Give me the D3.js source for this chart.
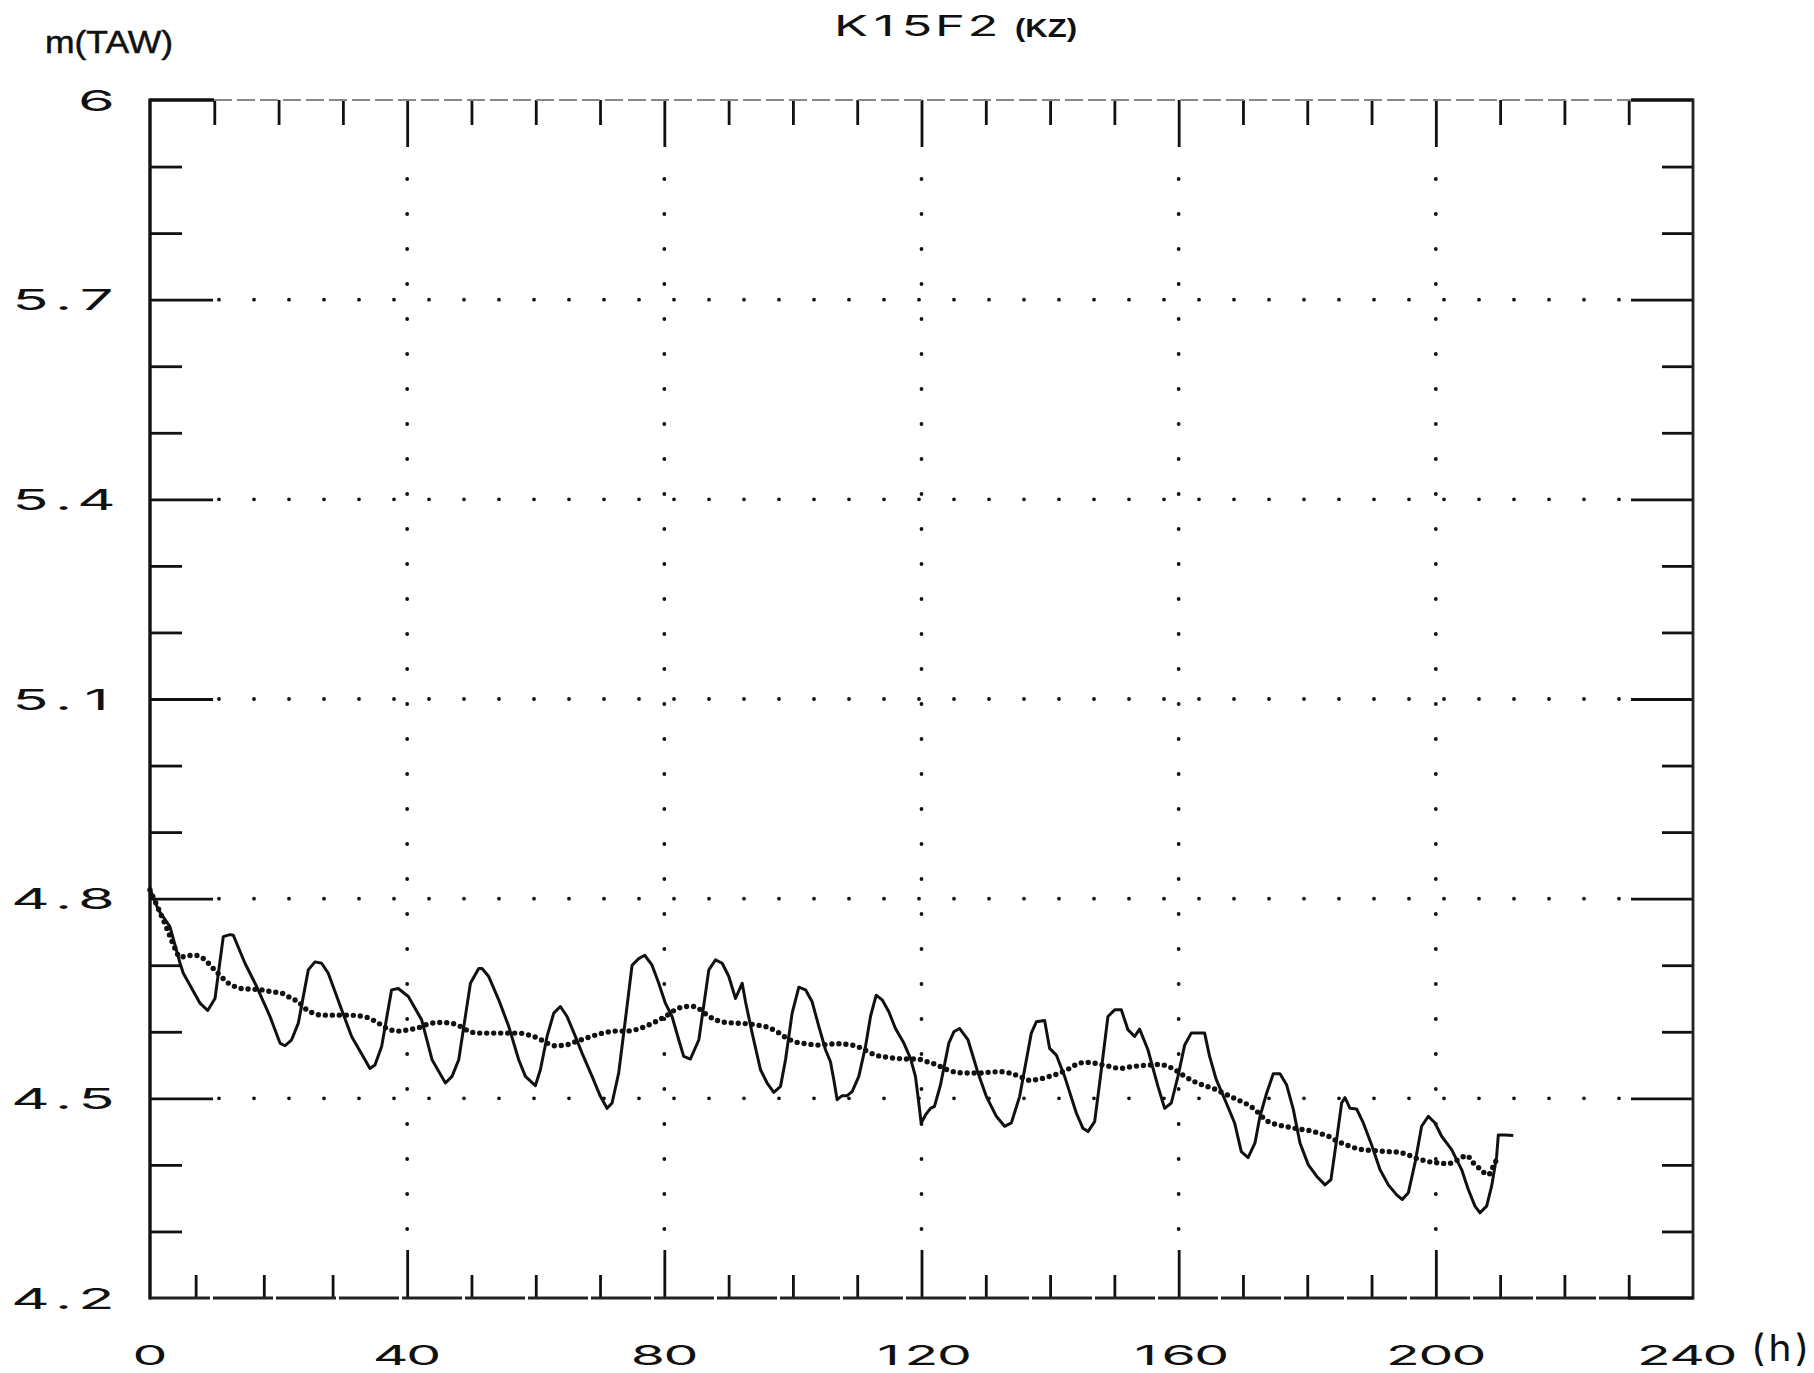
<!DOCTYPE html>
<html><head><meta charset="utf-8">
<script src="https://cdn.jsdelivr.net/npm/d3@7"></script>
<style>html,body{margin:0;padding:0;background:#fff}svg{display:block}</style>
</head><body>
<script>
// ---------------- DATA ----------------
const chartTitle = "K15F2";
const chartTitleNote = "(KZ)";
const yAxisTitle = "m(TAW)";
const xAxisUnit = "(h)";

// observed water level (solid line): hour, level m TAW
const solidHours = [0,1.3,3.1,4.67,5.18,7.78,8.97,10.11,11.4,12.44,12.96,14.77,16.59,18.66,20.22,21.0,22.03,23.07,24.62,25.66,26.7,27.73,29.81,31.36,33.44,34.21,34.99,36.03,37.58,38.62,40.18,42.25,
43.87,45.95,46.98,48.02,49.84,51.13,51.65,52.69,54.24,55.8,57.35,58.39,59.94,60.72,61.76,62.8,63.83,64.87,66.16,67.2,68.76,70.05,71.09,71.87,72.9,73.94,74.98,76.01,76.95,78.09,79.13,80.16,81.2,82.24,83.01,84.05,
85.37,86.92,87.96,89.0,90.03,91.07,92.11,92.63,93.66,94.96,95.99,97.03,98.07,98.85,99.88,100.92,101.96,102.99,104.03,105.07,105.84,106.36,106.88,107.66,108.43,109.21,110.25,111.29,112.07,112.95,113.88,114.92,115.95,117.25,118.29,119.06,119.58,119.95,120.62,121.4,122.02,122.95,124.25,125.03,125.91,126.84,
127.23,128.79,130.08,131.64,132.93,133.97,135.27,137.08,137.86,139.15,139.93,140.97,142.26,144.08,145.11,145.89,146.93,147.71,149.0,150.04,151.08,152.11,153.15,153.93,155.22,156.78,157.82,158.85,159.89,160.93,161.96,164.04,164.81,165.85,167.41,168.7,169.74,
170.8,171.87,172.65,173.69,174.72,175.76,176.8,177.84,178.87,180.17,181.46,182.76,183.69,184.57,185.35,185.87,186.65,187.68,188.72,190.02,191.31,192.61,193.91,194.79,195.72,196.76,197.79,198.83,199.87,200.9,202.46,204.01,205.05,206.09,206.87,207.9,208.68,209.46,209.72,210.75,212.05];
const solidLevels = [4.815,4.783,4.758,4.703,4.688,4.643,4.632,4.65,4.743,4.746,4.745,4.703,4.668,4.623,4.583,4.579,4.588,4.613,4.693,4.705,4.703,4.688,4.633,4.593,4.558,4.545,4.55,4.578,4.663,4.665,4.653,4.618,
4.558,4.523,4.533,4.558,4.673,4.695,4.695,4.683,4.648,4.608,4.558,4.533,4.519,4.543,4.593,4.628,4.638,4.623,4.593,4.568,4.533,4.503,4.485,4.493,4.538,4.618,4.7,4.71,4.715,4.7,4.673,4.643,4.623,4.588,4.563,4.559,
4.588,4.693,4.708,4.703,4.683,4.65,4.673,4.645,4.598,4.543,4.523,4.509,4.518,4.558,4.628,4.667,4.663,4.645,4.608,4.573,4.555,4.528,4.498,4.504,4.504,4.51,4.533,4.578,4.623,4.655,4.648,4.63,4.605,4.583,4.56,4.533,4.493,4.463,4.475,4.485,4.488,4.52,4.583,4.6,4.605,4.593,
4.588,4.538,4.503,4.473,4.458,4.463,4.503,4.598,4.615,4.617,4.575,4.565,4.533,4.478,4.455,4.45,4.465,4.523,4.623,4.633,4.633,4.603,4.593,4.604,4.573,4.518,4.485,4.493,4.533,4.58,4.598,4.598,4.563,4.528,4.493,4.463,4.42,
4.411,4.433,4.473,4.508,4.537,4.537,4.52,4.483,4.433,4.4,4.383,4.37,4.378,4.438,4.493,4.501,4.485,4.484,4.463,4.43,4.393,4.37,4.355,4.348,4.358,4.403,4.458,4.473,4.463,4.443,4.423,4.393,4.363,4.338,4.328,4.338,4.368,4.413,4.445,4.445,4.444];

// filtered mean level (dotted line): hour, level m TAW
const meanHours = [0,2.85,3.89,4.67,5.7,7.0,8.29,9.85,10.89,11.92,12.96,14.26,15.81,17.37,18.92,20.48,22.03,23.07,24.11,25.14,26.7,28.25,30.33,32.4,33.96,35.51,37.07,38.62,40.18,41.73,
43.36,44.91,46.72,48.28,49.58,51.13,53.2,55.28,57.35,58.91,60.46,61.76,63.05,64.61,66.16,67.72,69.28,70.83,72.39,73.94,75.5,77.05,78.61,80.16,81.72,83.27,84.6,
85.64,86.67,87.97,89.52,91.34,92.89,94.45,96.0,97.56,99.12,100.67,102.23,103.78,105.34,106.89,108.45,110.0,111.3,112.85,114.41,116.22,117.78,119.33,120.89,122.44,124.0,125.55,
127.23,128.79,130.34,132.15,133.71,135.27,136.82,138.38,139.93,141.49,143.04,144.6,146.15,147.71,149.26,150.82,152.37,153.93,155.48,157.04,158.33,159.89,160.93,162.48,164.04,165.59,167.15,168.7,
169.8,170.84,171.87,172.91,173.95,175.5,177.06,178.61,180.17,181.72,183.28,184.83,186.39,187.94,189.5,191.05,192.61,194.16,195.72,197.27,198.83,200.39,201.94,203.5,204.8,205.83,206.87,208.16,208.94,209.72];
const meanLevels = [4.813,4.75,4.725,4.712,4.714,4.715,4.71,4.695,4.685,4.675,4.669,4.665,4.664,4.663,4.66,4.658,4.65,4.645,4.635,4.629,4.625,4.625,4.625,4.624,4.621,4.613,4.604,4.601,4.603,4.606,
4.612,4.614,4.613,4.608,4.601,4.598,4.598,4.598,4.598,4.595,4.59,4.583,4.579,4.58,4.585,4.59,4.595,4.599,4.601,4.601,4.603,4.608,4.615,4.623,4.633,4.638,4.638,
4.633,4.625,4.618,4.614,4.613,4.612,4.61,4.607,4.6,4.59,4.584,4.582,4.58,4.581,4.582,4.581,4.578,4.572,4.565,4.562,4.56,4.559,4.559,4.555,4.55,4.543,4.539,
4.538,4.538,4.539,4.54,4.538,4.533,4.527,4.529,4.533,4.538,4.545,4.553,4.554,4.551,4.548,4.545,4.547,4.549,4.55,4.551,4.548,4.54,4.533,4.525,4.519,4.514,4.507,4.5,
4.495,4.49,4.483,4.473,4.465,4.46,4.457,4.454,4.452,4.448,4.443,4.435,4.429,4.424,4.422,4.421,4.42,4.419,4.415,4.409,4.405,4.403,4.402,4.408,4.414,4.403,4.394,4.385,4.398,4.414];

// axes
const xDomain = [0, 240];
const yDomain = [4.2, 6];
const xLabelValues = [0, 40, 80, 120, 160, 200, 240];
const xLabelTexts = ["0", "40", "80", "120", "160", "200", "240"];
const xMajorTicks = [40, 80, 120, 160, 200];
const xTopMinorTicks = [10,20,30,50,60,70,90,100,110,130,140,150,170,180,190,210,220,230];
const xBottomMinorTicks = [7.1,17.7,28.4,50,60,70,90,100,110,130,140,150,170,180,190,210,220,230];
const yLabelValues = [4.2, 4.5, 4.8, 5.1, 5.4, 5.7, 6];
const yLabelTexts = ["4.2", "4.5", "4.8", "5.1", "5.4", "5.7", "6"];
const yMajorTicks = [4.5, 4.8, 5.1, 5.4, 5.7];
const yMinorTicks = [4.3,4.4,4.6,4.7,4.9,5.0,5.2,5.3,5.5,5.6,5.8,5.9];

// ---------------- DRAW ----------------
const W = 1814, H = 1373;
const L = 150, R = 1693, T = 100, B = 1298;
const svg = d3.select("body").append("svg").attr("width", W).attr("height", H);
const x = d3.scaleLinear().domain(xDomain).range([L, R]);
const y = d3.scaleLinear().domain(yDomain).range([B, T]);
const INK = "#111";
const PLOT_FONT = "Inter, 'DejaVu Sans', sans-serif";

// dotted grid
function phaseStart(s, period, phase) { return s + (((phase - s) % period) + period) % period; }
const gGrid = svg.append("g");
yMajorTicks.forEach(v => {
  const x0 = phaseStart(L + 63, 35, 9), x1 = R - 62;
  gGrid.append("line").attr("x1", x0).attr("x2", x1).attr("y1", y(v)).attr("y2", y(v))
    .attr("stroke", INK).attr("stroke-width", 3.8).attr("stroke-linecap", "round")
    .attr("stroke-dasharray", "0 35");
});
xMajorTicks.forEach(h => {
  const y0 = phaseStart(T + 47, 35, 4), y1 = B - 48;
  gGrid.append("line").attr("x1", x(h)).attr("x2", x(h)).attr("y1", y0).attr("y2", y1)
    .attr("stroke", INK).attr("stroke-width", 3.8).attr("stroke-linecap", "round")
    .attr("stroke-dasharray", "0 35");
});

// ticks via d3 axes
function ticks(axisFn, scale, vals, size, tx, ty) {
  const g = svg.append("g").attr("transform", `translate(${tx},${ty})`)
    .call(axisFn(scale).tickValues(vals).tickSize(size).tickFormat(""));
  g.select(".domain").remove();
  g.selectAll(".tick line").attr("stroke", INK).attr("stroke-width", 2.8);
}
ticks(d3.axisLeft, y, yMinorTicks, -32, L, 0);
ticks(d3.axisLeft, y, yMajorTicks, -63, L, 0);
ticks(d3.axisRight, y, yMinorTicks, -31, R, 0);
ticks(d3.axisRight, y, yMajorTicks, -62, R, 0);
ticks(d3.axisTop, x, xTopMinorTicks, -25, 0, T);
ticks(d3.axisTop, x, xMajorTicks, -47, 0, T);
ticks(d3.axisBottom, x, xBottomMinorTicks, -23, 0, B);
ticks(d3.axisBottom, x, xMajorTicks, -48, 0, B);

// frame
const gF = svg.append("g").attr("fill", "none");
function seg(x1, y1, x2, y2, stroke, w, dash) {
  const l = gF.append("line").attr("x1", x1).attr("y1", y1).attr("x2", x2).attr("y2", y2)
    .attr("stroke", stroke).attr("stroke-width", w);
  if (dash) l.attr("stroke-dasharray", dash);
}
seg(L, T - 1.5, L, B + 1.5, INK, 3.4);
seg(L, T, L + 64, T, INK, 3.4);
seg(L + 64, T, R - 62, T, "#888", 2, "18 5");
seg(R - 62, T, R, T, INK, 3.4);
seg(R, T - 1.5, R, B + 1.5, "#222", 2.8);
seg(L, B, R - 65, B, "#222", 2.8, "60 3");
seg(R - 65, B, R, B, INK, 3.4);

// data lines
const gData = svg.append("g").attr("fill", "none");
const solidPts = solidHours.map((h, i) => [h, solidLevels[i]]);
const meanPts = meanHours.map((h, i) => [h, meanLevels[i]]);
gData.append("path").attr("d", d3.line().x(d => x(d[0])).y(d => y(d[1])).curve(d3.curveLinear)(solidPts))
  .attr("stroke", INK).attr("stroke-width", 3).attr("stroke-linejoin", "round");
gData.append("path").attr("d", d3.line().x(d => x(d[0])).y(d => y(d[1])).curve(d3.curveMonotoneX)(meanPts))
  .attr("stroke", INK).attr("stroke-width", 5.4).attr("stroke-linecap", "round")
  .attr("stroke-dasharray", "0 7");

// plotter-style text: monospaced cells, horizontally stretched glyphs
function plotterText(str, cx, baseline, o) {
  const opt = Object.assign({ pitch: 33, size: 29, sx: 2.05, anchor: "middle", glyphW: 27, weight: 400 }, o || {});
  const chars = [...str];
  const n = chars.length;
  let first;
  if (opt.anchor === "middle") first = cx - (n - 1) * opt.pitch / 2;
  else if (opt.anchor === "end") first = cx - opt.glyphW / 2 - (n - 1) * opt.pitch;
  else first = cx + opt.glyphW / 2;
  const g = svg.append("g");
  chars.forEach((c, i) => {
    g.append("text").attr("transform", `translate(${first + i * opt.pitch},${baseline}) scale(${opt.sx},1)`)
      .attr("text-anchor", "middle").attr("font-family", PLOT_FONT)
      .attr("font-size", opt.size).attr("font-weight", opt.weight).attr("fill", INK).text(c);
  });
}
// y labels
yLabelValues.forEach((v, i) => plotterText(yLabelTexts[i], 110, y(v) + 10.5, { anchor: "end" }));
// x labels
xLabelValues.forEach((h, i) => {
  const cx = h === 240 ? x(h) - 6 : x(h);
  plotterText(xLabelTexts[i], cx, 1365, { pitch: 33, size: 27 });
});
// unit (h)
plotterText(xAxisUnit, 1780, 1361, { pitch: 22, size: 37, sx: 1.05 });
// title
plotterText(chartTitle, 917, 36, { pitch: 33, size: 29, sx: 1.75 });
svg.append("text").attr("x", 1015).attr("y", 37).attr("font-family", "'Liberation Sans', Arial, sans-serif")
  .attr("font-weight", "bold").attr("font-size", 26).attr("textLength", 62).attr("lengthAdjust", "spacingAndGlyphs")
  .attr("fill", INK).text(chartTitleNote);
// y axis title
svg.append("text").attr("x", 45).attr("y", 53).attr("font-family", "'Liberation Sans', Arial, sans-serif")
  .attr("font-size", 32).attr("textLength", 128).attr("lengthAdjust", "spacingAndGlyphs")
  .attr("fill", INK).attr("stroke", INK).attr("stroke-width", 0.5).text(yAxisTitle);
</script>
</body></html>
